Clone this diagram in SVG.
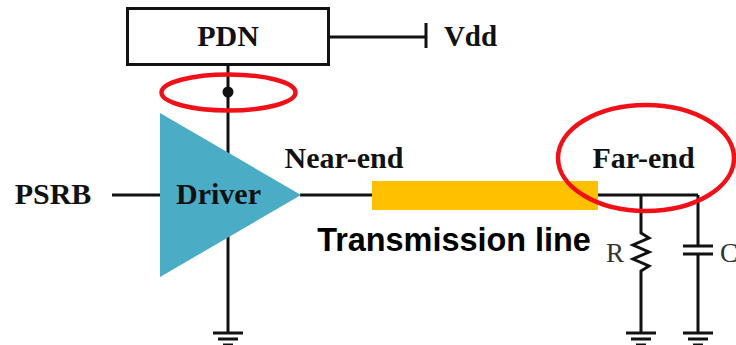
<svg xmlns="http://www.w3.org/2000/svg" width="736" height="345" viewBox="0 0 736 345">
<style>
.w{fill:none;stroke:#111;stroke-width:3}
.t{font-family:"Liberation Serif",serif;font-weight:bold;font-size:30px;fill:#111;text-anchor:middle}
.r{font-family:"Liberation Serif",serif;font-size:27px;fill:#333;text-anchor:middle}
.e{fill:none;stroke:#f01018;stroke-width:4.500}
</style>
<defs>
<g id="gnd" class="w"><path d="M-15 0H15M-10 6H10M-5 12H5"/></g>
</defs>
<rect width="736" height="345" fill="#fff"/>
<g id="connectors">
<path class="w" d="M228 65V160M228 236V332M330 37H426M426 23V48M112 195H160M300 195H372M598 195H698M641 195V233L649 238L633 245L649 252L633 259L649 266L641 271V332M698 195V246M683 246H713M683 254H713M698 254V332"/>
<circle cx="228" cy="92" r="5.500" fill="#111"/>
<use href="#gnd" x="228" y="333"/>
<use href="#gnd" x="641" y="333"/>
<use href="#gnd" x="698" y="333"/>
</g>
<g id="pdn"><rect x="127.500" y="8.500" width="201" height="56" fill="#fff" stroke="#111" stroke-width="3"/><text class="t" x="228" y="46">PDN</text></g>
<g id="vdd"><text class="t" x="470.500" y="46" style="font-size:29px">Vdd</text></g>
<g id="psrb"><text class="t" x="53" y="204">PSRB</text></g>
<g id="driver"><path d="M160 113L301 195L160 277Z" fill="#4bacc6"/><text class="t" x="218.500" y="204">Driver</text></g>
<g id="near-end"><text class="t" x="344" y="168">Near-end</text></g>
<g id="line"><rect x="372" y="181" width="226" height="29" fill="#ffc000"/><text x="454" y="251" font-family="Liberation Sans,sans-serif" font-weight="bold" font-size="32.400" fill="#000" text-anchor="middle">Transmission line</text></g>
<g id="far-end"><text class="t" x="643.500" y="168">Far-end</text></g>
<g id="r"><text class="r" x="615" y="262">R</text></g>
<g id="c"><text class="r" x="729" y="262">C</text></g>
<g id="ellipses"><ellipse class="e" cx="228.500" cy="92.500" rx="67" ry="18"/><ellipse class="e" cx="646" cy="158" rx="88" ry="53"/></g>
</svg>
